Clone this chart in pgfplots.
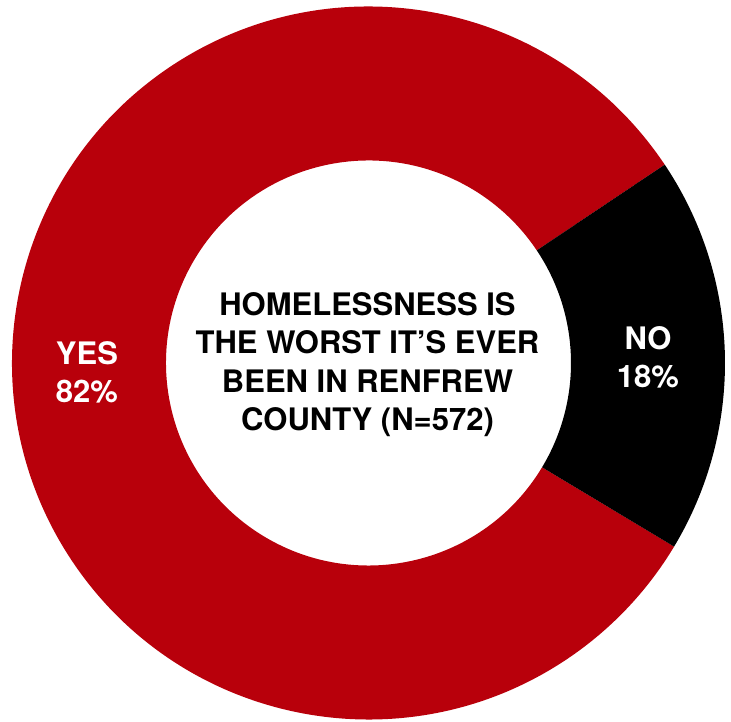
\documentclass[border=0pt]{standalone}
\usepackage{pgfplots}
\usepackage{pgfplotstable}
\pgfplotsset{compat=1.18}
\usepackage{fontspec}
\setmainfont{TeX Gyre Heros}
\definecolor{yesred}{RGB}{184,0,11}
\definecolor{nob}{RGB}{0,0,0}
\pgfplotstableread{
label value
YES 82
NO 18
}\donutdata
\begin{document}
\begin{tikzpicture}
\pgfplotstablegetelem{0}{value}\of\donutdata
\pgfmathsetmacro{\yesval}{\pgfplotsretval}
\pgfplotstablegetelem{1}{value}\of\donutdata
\pgfmathsetmacro{\noval}{\pgfplotsretval}
\pgfmathsetmacro{\aStart}{33.8}
\pgfmathsetmacro{\aMid}{\aStart+\yesval*3.6}
\pgfmathsetmacro{\aEnd}{\aMid+\noval*3.6}
\begin{axis}[
  width=731pt, height=722pt, scale only axis,
  xmin=0, xmax=731, ymin=0, ymax=722,
  axis lines=none, ticks=none, clip=false,
]
\path (axis cs:0,0) rectangle (axis cs:731,722);
% YES slice
\fill[yesred, overlay] ([shift={(\aStart:356.5pt)}]axis cs:368.5,359)
  arc[start angle=\aStart, end angle=\aMid, radius=356.5pt]
  -- ([shift={(\aMid:202.5pt)}]axis cs:368.5,359)
  arc[start angle=\aMid, end angle=\aStart, radius=202.5pt] -- cycle;
% NO slice
\fill[nob, overlay] ([shift={(\aMid:356.5pt)}]axis cs:368.5,359)
  arc[start angle=\aMid, end angle=\aEnd, radius=356.5pt]
  -- ([shift={(\aEnd:202.5pt)}]axis cs:368.5,359)
  arc[start angle=\aEnd, end angle=\aMid, radius=202.5pt] -- cycle;
\node[white, font=\fontsize{31}{38}\selectfont\bfseries, align=center]
  at (axis cs:87,350) {YES\\82\%};
\node[white, font=\fontsize{31}{38}\selectfont\bfseries, align=center]
  at (axis cs:648,364.5) {NO\\18\%};
\node[black, font=\fontsize{31}{38.3}\selectfont\bfseries, align=center]
  at (axis cs:367.5,357.5) {HOMELESSNESS IS\\THE WORST IT’S EVER\\BEEN IN RENFREW\\COUNTY (N=572)};
\end{axis}
\end{tikzpicture}
\end{document}
